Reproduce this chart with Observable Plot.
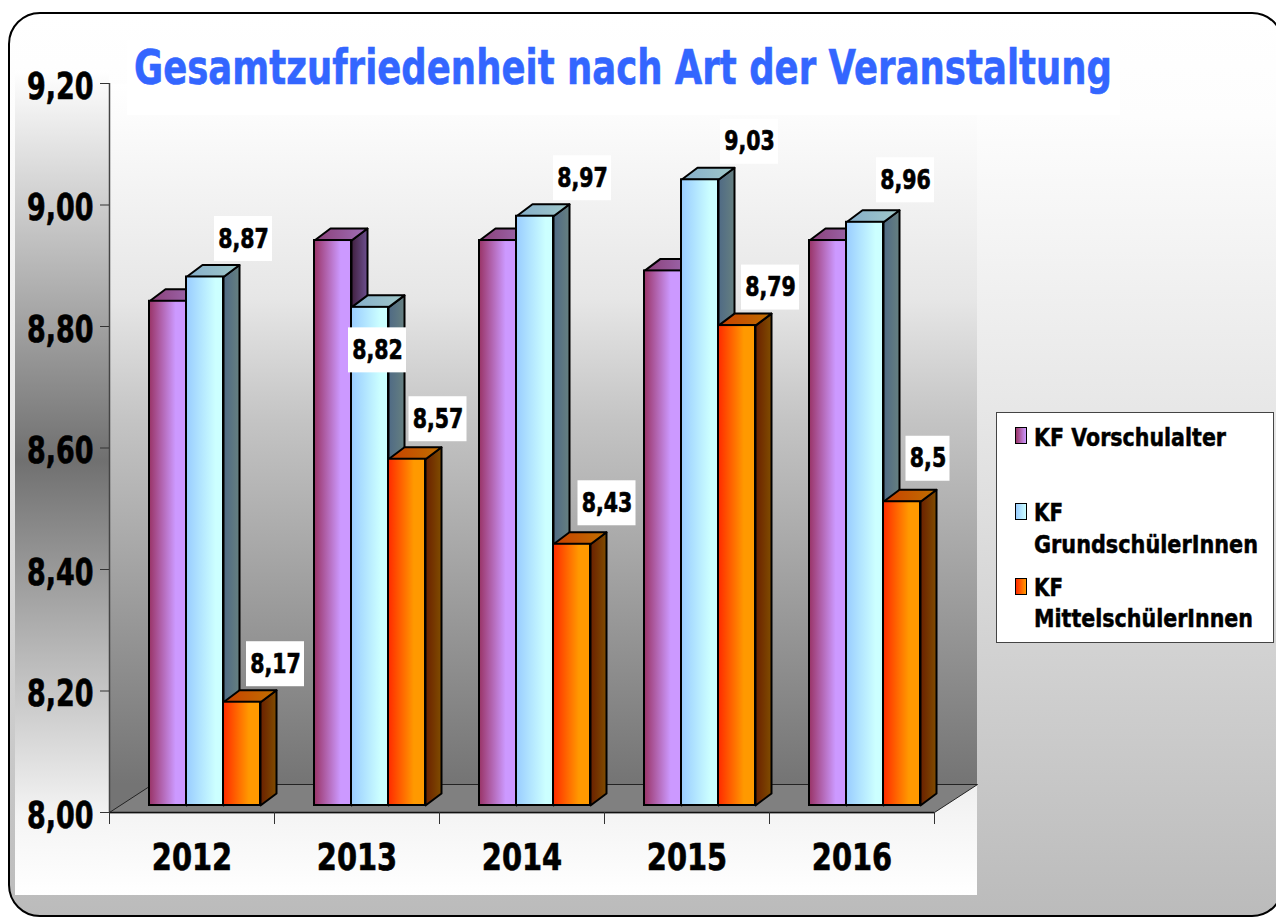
<!DOCTYPE html>
<html lang="de">
<head>
<meta charset="utf-8">
<script src="https://cdn.jsdelivr.net/npm/d3@7"></script>
<script src="https://cdn.jsdelivr.net/npm/@observablehq/plot@0.6"></script>
<style>
  html,body{margin:0;padding:0;width:1276px;height:918px;overflow:hidden;background:#fff;font-family:"DejaVu Sans",sans-serif;}
  .abs{position:absolute;}
  #card{left:8px;top:12px;width:1276px;height:905px;box-sizing:border-box;border:2px solid #000;border-radius:32px;
    background:linear-gradient(to bottom,#fff 0,#fdfdfd 103px,#e6e6e6 408px,#bbb 100%);}
  #leftStrip{left:15px;top:70px;width:94px;height:825px;
    background:linear-gradient(to bottom,#fff 0,#707070 390px,#f4f4f4 745px,#fff 100%);}
  #wall{left:109px;top:84px;width:868px;height:728px;
    background:linear-gradient(to bottom,#fff 0,#fcfcfc 31px,#f2f2f2 116px,#e6e6e6 216px,#c4c4c4 336px,#747474 700px,#747474 100%);}
  #bottomStrip{left:109px;top:812px;width:868px;height:83px;background:linear-gradient(to bottom,#f4f4f4,#fff);}
  #cornerStrip{left:934px;top:784px;width:43px;height:28px;background:linear-gradient(to bottom,#efefef,#f4f4f4);}
  #titleMask{left:127px;top:40px;width:993px;height:75px;background:#fff;}
  #title{left:134px;top:37px;font-size:48px;line-height:60px;font-weight:bold;color:#3366ff;white-space:nowrap;transform-origin:0 0;-webkit-text-stroke:.6px #3366ff;}
  #legend{left:996px;top:412px;width:278px;height:231px;box-sizing:border-box;background:#fff;border:1.5px solid #444;}
  .sw{position:absolute;width:10px;height:15px;box-sizing:content-box;border:1.5px solid #000;}
  .lt{position:absolute;font-size:24px;line-height:30px;font-weight:bold;color:#000;white-space:nowrap;transform-origin:0 0;-webkit-text-stroke:.5px #000;}
  #chart{left:0;top:0;}
</style>
</head>
<body>
<div class="abs" id="card"></div>
<div class="abs" id="leftStrip"></div>
<div class="abs" id="wall"></div>
<div class="abs" id="bottomStrip"></div>
<div class="abs" id="cornerStrip"></div>
<div class="abs" id="titleMask"></div>
<div class="abs" id="chart"></div>
<div class="abs" id="title">Gesamtzufriedenheit nach Art der Veranstaltung</div>
<div class="abs" id="legend"></div>
<script>
const years = ["2012","2013","2014","2015","2016"];
const vorschulalter = [8.83,8.93,8.93,8.88,8.93];
const grundschueler = [8.87,8.82,8.97,9.03,8.96];
const mittelschueler = [8.17,8.57,8.43,8.79,8.5];
const yTicks = [8,8.2,8.4,8.6,8.8,9,9.2];
const seriesNames = ["KF Vorschulalter","KF GrundschülerInnen","KF MittelschülerInnen"];
// label nudges from the bar top, px
const gNudgeX = [38.5,7.5,47.5,49.5,40.5];
const gNudgeY = [-38,43,-38,-38,-42];
const mNudgeX = [33.5,31,35,33.5,26];
const mNudgeY = [-38,-40,-41,-38,-43];

const pxX = 165, pxY = 607.5;
const barW = 37/pxX, barOff = 40/pxX, depX = 16/pxX, depY = 12/pxY;
const wallX = 43/pxX, wallY = 28/pxY;
const comma = v => String(v).replace(".",",");

const series = [
  {key:"p",values:vorschulalter},
  {key:"b",values:grundschueler},
  {key:"o",values:mittelschueler}
];
const grads = {
  pf:["#993366","#cc99ff",.72], ps:["#40203f","#6d5090",1], pt:["#8a3f78","#a070b8",1],
  bf:["#99ccff","#ccffff",.8],  bs:["#4f6a85","#668080",1], bt:["#85aecb","#a0c8c8",1],
  of:["#ff2a00","#ff9900",.7],  os:["#6a2000","#804d00",1], ot:["#c84000","#c07000",1]
};
const defs = () => {
  const d = d3.create("svg:defs");
  for (const [id,[a,b,m]] of Object.entries(grads)) {
    const g = d.append("linearGradient").attr("id",id).attr("x1",0).attr("x2",1).attr("y1",0).attr("y2",0);
    g.append("stop").attr("offset",0).attr("stop-color",a);
    g.append("stop").attr("offset",m).attr("stop-color",b);
    g.append("stop").attr("offset",1).attr("stop-color",b);
  }
  return d.node();
};

const barMarks = series.flatMap((s,si) => {
  const rows = s.values.map((v,i) => ({i,v,x1:i+barOff+si*barW,x2:i+barOff+(si+1)*barW}));
  const side = rows.flatMap(r => [[r.x2,8],[r.x2,r.v],[r.x2+depX,r.v+depY],[r.x2+depX,8+depY]].map(([x,y]) => ({x,y,z:r.i})));
  const top = rows.flatMap(r => [[r.x1,r.v],[r.x2,r.v],[r.x2+depX,r.v+depY],[r.x1+depX,r.v+depY]].map(([x,y]) => ({x,y,z:r.i})));
  const common = {x:"x",y:"y",z:"z",curve:"linear-closed",stroke:"#000",strokeWidth:2,dy:-7,strokeLinejoin:"round"};
  return [
    Plot.line(side,{...common,fill:`url(#${s.key}s)`}),
    Plot.line(top,{...common,fill:`url(#${s.key}t)`}),
    Plot.rect(rows,{x1:"x1",x2:"x2",y1:()=>8,y2:"v",dy:-7,fill:`url(#${s.key}f)`,stroke:"#000",strokeWidth:2})
  ];
});

const labelRows = [
  ...grundschueler.map((v,i)=>({v,x:i+barOff+1.5*barW+gNudgeX[i]/pxX,y:v+7/pxY-gNudgeY[i]/pxY})),
  ...mittelschueler.map((v,i)=>({v,x:i+barOff+2.5*barW+mNudgeX[i]/pxX,y:v+7/pxY-mNudgeY[i]/pxY}))
].map(d=>({...d,t:comma(d.v),hw:(comma(d.v).length>3?29:22)/pxX,hh:22.5/pxY}));

const floor = [[0,8],[wallX,8+wallY],[5+wallX,8+wallY],[5,8]].map(([x,y])=>({x,y}));

const plot = Plot.plot({
  width:1276,height:918,
  marginTop:83,marginBottom:106,marginLeft:109,marginRight:342,
  style:{background:"transparent",fontFamily:"'DejaVu Sans',sans-serif",overflow:"visible"},
  x:{type:"linear",domain:[0,5]},
  y:{domain:[8,9.2]},
  marks:[
    defs,
    Plot.line(floor,{x:"x",y:"y",curve:"linear-closed",fill:"#808080",stroke:"#222",strokeWidth:1}),
    Plot.ruleX([0],{y1:()=>8,y2:()=>9.2,stroke:"#444",strokeWidth:1.5}),
    Plot.ruleY([8],{x1:()=>0,x2:()=>5,stroke:"#111",strokeWidth:1.5}),
    Plot.axisY({ticks:yTicks,tickSize:9,tickFormat:()=>"",stroke:"#333",label:null}),
    Plot.axisY({ticks:yTicks,tickSize:0,tickPadding:16,dy:3,tickFormat:d=>d.toFixed(2).replace(".",","),
      fontSize:38,fontWeight:"bold",fill:"#000",label:null,ariaLabel:"y-axis labels"}),
    Plot.axisX({ticks:[0,1,2,3,4,5],tickSize:12,tickFormat:()=>"",stroke:"#333",label:null}),
    Plot.axisX({ticks:[.5,1.5,2.5,3.5,4.5],tickSize:0,tickPadding:31,tickFormat:d=>years[Math.floor(d)],
      fontSize:38,fontWeight:"bold",fill:"#000",label:null}),
    ...barMarks,
    Plot.rect(labelRows,{x1:d=>d.x-d.hw,x2:d=>d.x+d.hw,y1:d=>d.y-d.hh,y2:d=>d.y+d.hh,fill:"#fff"}),
    Plot.text(labelRows,{x:"x",y:"y",text:"t",fontSize:27,fontWeight:"bold",fill:"#000"})
  ]
});
document.getElementById("chart").append(plot);
plot.querySelectorAll("text").forEach(t=>{
  const w=t.getComputedTextLength();
  if(w>0){
    const isY = t.textContent.length===4 && t.textContent.includes(",") && t.getAttribute("text-anchor")==="end" || t.parentNode.getAttribute("text-anchor")==="end";
    t.setAttribute("textLength",w*(isY?0.71:0.76));
    t.setAttribute("lengthAdjust","spacingAndGlyphs");
    t.setAttribute("stroke","#000");
    t.setAttribute("stroke-width",".7");
  }
});

const fit=(el,w)=>{el.style.transform=`scaleX(${w/el.getBoundingClientRect().width})`;};
fit(document.getElementById("title"),978);

const legend=document.getElementById("legend");
const legendItems=[
  {sw:"linear-gradient(to right,#993366,#cc99ff)",y:16,lines:[[seriesNames[0],192,10]]},
  {sw:"linear-gradient(to right,#99ccff,#ccffff)",y:92,lines:[["KF",29,85],["GrundschülerInnen",224,117]]},
  {sw:"linear-gradient(to right,#ff2a00,#ff9900)",y:167,lines:[["KF",29,160],["MittelschülerInnen",219,191]]}
];
for(const it of legendItems){
  const s=document.createElement("div");s.className="sw";s.style.cssText=`left:18px;top:${it.y-2}px;background:${it.sw}`;legend.append(s);
  for(const [txt,w,y] of it.lines){
    const t=document.createElement("div");t.className="lt";t.textContent=txt;t.style.left="37px";t.style.top=y+"px";legend.append(t);fit(t,w);
  }
}
</script>
</body>
</html>
